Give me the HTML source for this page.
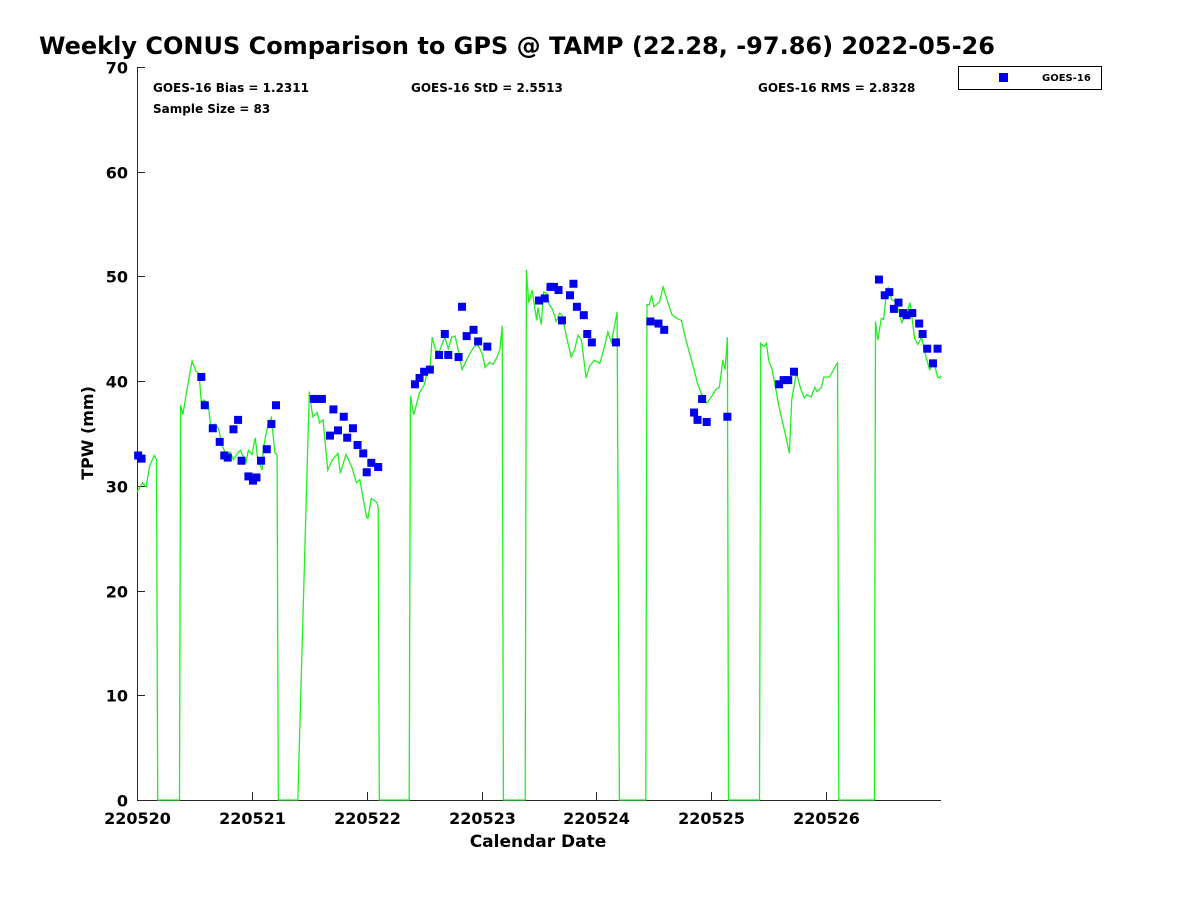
<!DOCTYPE html>
<html><head><meta charset="utf-8"><style>
body{margin:0;background:#fff;width:1200px;height:900px;overflow:hidden;font-family:"Liberation Sans","DejaVu Sans",sans-serif}
svg text{font-family:"DejaVu Sans","Liberation Sans",sans-serif;font-weight:bold;fill:#000}
</style></head><body>
<svg id="chart" width="1200" height="900" xmlns="http://www.w3.org/2000/svg">
<text x="39" y="54" font-size="24">Weekly CONUS Comparison to GPS @ TAMP (22.28, -97.86) 2022-05-26</text>
<text x="153" y="92" font-size="12">GOES-16 Bias = 1.2311</text>
<text x="153" y="113" font-size="12">Sample Size = 83</text>
<text x="411" y="92" font-size="12">GOES-16 StD = 2.5513</text>
<text x="758" y="92" font-size="12">GOES-16 RMS = 2.8328</text>
<g>
<rect x="958.5" y="66.5" width="143" height="23" fill="#fff" stroke="#000" stroke-width="1"/>
<rect x="999" y="73" width="9" height="9" fill="#0000ee"/>
<text x="1042" y="81" font-size="10">GOES-16</text>
</g>
<text x="538" y="847" font-size="17" text-anchor="middle">Calendar Date</text>
<text transform="translate(93,433) rotate(-90)" font-size="16" text-anchor="middle">TPW (mm)</text>
<g id="axes"></g>
<g id="plot"></g>
</svg>
<script>
const xTickLabels=["220520","220521","220522","220523","220524","220525","220526"];
const yTickLabels=[0,10,20,30,40,50,60,70];
const gpsDays=[0,0.05,0.08,0.11,0.15,0.17,0.18,0.37,0.38,0.40,0.43,0.45,0.48,0.51,0.54,0.56,0.58,0.62,0.64,0.68,0.71,0.74,0.77,0.81,0.84,0.88,0.90,0.92,0.95,0.97,1.0,1.03,1.05,1.09,1.10,1.14,1.17,1.20,1.22,1.23,1.40,1.50,1.53,1.57,1.59,1.62,1.66,1.70,1.75,1.77,1.82,1.87,1.91,1.94,1.97,2.0,2.01,2.04,2.09,2.10,2.11,2.37,2.38,2.41,2.46,2.50,2.52,2.55,2.57,2.60,2.63,2.68,2.71,2.74,2.77,2.80,2.83,2.86,2.90,2.93,2.96,2.98,3.01,3.03,3.07,3.10,3.13,3.16,3.18,3.19,3.38,3.39,3.41,3.44,3.48,3.49,3.52,3.54,3.57,3.59,3.62,3.65,3.68,3.70,3.74,3.78,3.81,3.84,3.87,3.91,3.94,3.98,4.03,4.07,4.10,4.13,4.16,4.18,4.20,4.43,4.44,4.46,4.48,4.50,4.55,4.58,4.62,4.66,4.70,4.74,4.78,4.82,4.85,4.88,4.91,4.96,5.0,5.04,5.07,5.10,5.12,5.14,5.15,5.42,5.43,5.46,5.48,5.50,5.53,5.59,5.65,5.68,5.70,5.74,5.78,5.81,5.83,5.87,5.90,5.92,5.96,5.98,6.03,6.10,6.11,6.42,6.43,6.45,6.48,6.50,6.52,6.54,6.57,6.60,6.63,6.66,6.70,6.73,6.77,6.80,6.83,6.87,6.90,6.94,6.97,6.99,7.0];
const gpsTpw=[29.4,30.3,29.9,31.9,32.9,32.5,0,0,37.7,36.8,38.9,40.1,41.9,41.0,40.7,38.0,38.2,37.9,35.8,35.9,35.5,33.9,33.1,33.2,32.5,33.2,33.4,32.9,32.3,33.4,33.0,34.6,32.6,31.5,33.6,35.8,36.5,33.2,32.9,0,0,39.0,36.6,37.0,36.0,36.3,31.5,32.5,33.1,31.2,33.0,31.8,30.3,30.6,28.7,27.0,26.9,28.8,28.4,27.9,0,0,38.6,36.8,38.9,39.6,40.5,41.1,44.2,43.0,42.8,44.2,43.1,44.2,44.3,42.8,41.1,41.8,42.7,43.2,43.5,43.2,42.5,41.3,41.8,41.6,42.2,43.0,45.3,0,0,50.6,47.5,48.7,45.8,47.0,45.4,48.5,48.4,47.3,46.8,45.7,46.5,46.3,44.2,42.3,43.0,44.4,43.9,40.3,41.4,42.0,41.7,43.3,44.7,43.7,45.4,46.6,0,0,47.3,47.3,48.2,47.1,47.6,49.0,47.6,46.3,46.0,45.8,43.9,42.3,41.1,39.8,38.9,37.9,38.5,39.2,39.4,42.0,41.1,44.2,0,0,43.6,43.3,43.6,42.0,41.1,37.5,34.7,33.1,38.2,40.8,39.2,38.4,38.7,38.5,39.4,39.0,39.4,40.4,40.4,41.8,0,0,45.7,43.9,46.0,45.9,48.0,48.9,47.8,47.6,46.8,45.6,46.5,47.5,44.1,43.5,44.2,42.3,41.1,41.7,40.4,40.3,40.5];
const goesDays=[0.01,0.04,0.56,0.59,0.66,0.72,0.76,0.79,0.84,0.88,0.91,0.97,1.01,1.04,1.08,1.13,1.17,1.21,1.54,1.57,1.61,1.68,1.71,1.75,1.80,1.83,1.88,1.92,1.97,2.00,2.04,2.10,2.42,2.46,2.50,2.55,2.63,2.68,2.71,2.80,2.83,2.87,2.93,2.97,3.05,3.50,3.55,3.60,3.63,3.67,3.70,3.77,3.80,3.83,3.89,3.92,3.96,4.17,4.47,4.54,4.59,4.85,4.88,4.92,4.96,5.14,5.59,5.63,5.67,5.72,6.46,6.51,6.55,6.59,6.63,6.67,6.70,6.75,6.81,6.84,6.88,6.93,6.97];
const goesTpw=[32.9,32.6,40.4,37.7,35.5,34.2,32.9,32.7,35.4,36.3,32.4,30.9,30.5,30.8,32.4,33.5,35.9,37.7,38.3,38.3,38.3,34.8,37.3,35.3,36.6,34.6,35.5,33.9,33.1,31.3,32.2,31.8,39.7,40.3,40.9,41.1,42.5,44.5,42.5,42.3,47.1,44.3,44.9,43.8,43.3,47.7,47.9,49.0,49.0,48.7,45.8,48.2,49.3,47.1,46.3,44.5,43.7,43.7,45.7,45.5,44.9,37.0,36.3,38.3,36.1,36.6,39.7,40.1,40.1,40.9,49.7,48.2,48.5,46.9,47.5,46.5,46.3,46.5,45.5,44.5,43.1,41.7,43.1];
const X0=137,X1=941,Y0=800,Y1=67;
const xs=d=>X0+d*(X1-X0)/7;
const ys=v=>Y0-v*(Y0-Y1)/70;
const NS="http://www.w3.org/2000/svg";
const axes=document.getElementById('axes'),plot=document.getElementById('plot');
function mk(tag,attrs,parent){const e=document.createElementNS(NS,tag);for(const k in attrs)e.setAttribute(k,attrs[k]);parent.appendChild(e);return e;}
const ax=mk('path',{d:`M${X0}.5 ${Y1}V${Y0}.5H${X1}`,stroke:'#262626',fill:'none','stroke-width':1},axes);


yTickLabels.forEach(v=>{
 const y=Math.round(ys(v))+0.5;
 const t=mk('line',{x1:X0,x2:X0+8,y1:y,y2:y,stroke:'#262626'},axes);
 
 
 const l=mk('text',{x:X0-9,y:y+6,'font-size':16,'text-anchor':'end',fill:'#262626'},axes);
 l.textContent=v;
 
 
});
xTickLabels.forEach((s,i)=>{
 const x=Math.round(xs(i))+0.5;
 const t=mk('line',{x1:x,x2:x,y1:Y0,y2:Y0-8,stroke:'#262626'},axes);
 
 
 const l=mk('text',{x:x,y:Y0+24,'font-size':16,'text-anchor':'middle',fill:'#262626'},axes);
 l.textContent=s;
 
 
});
const pts=gpsDays.map((d,i)=>xs(d).toFixed(1)+','+ys(gpsTpw[i]).toFixed(1)).join(' ');
const line=mk('polyline',{points:pts,fill:'none',stroke:'#22ee22','stroke-width':1.3},plot);


goesDays.forEach((d,i)=>{
 const r=mk('rect',{x:xs(d)-4,y:ys(goesTpw[i])-4,width:8,height:8,fill:'#0000ee'},plot);
 
 
});
</script>
</body></html>
